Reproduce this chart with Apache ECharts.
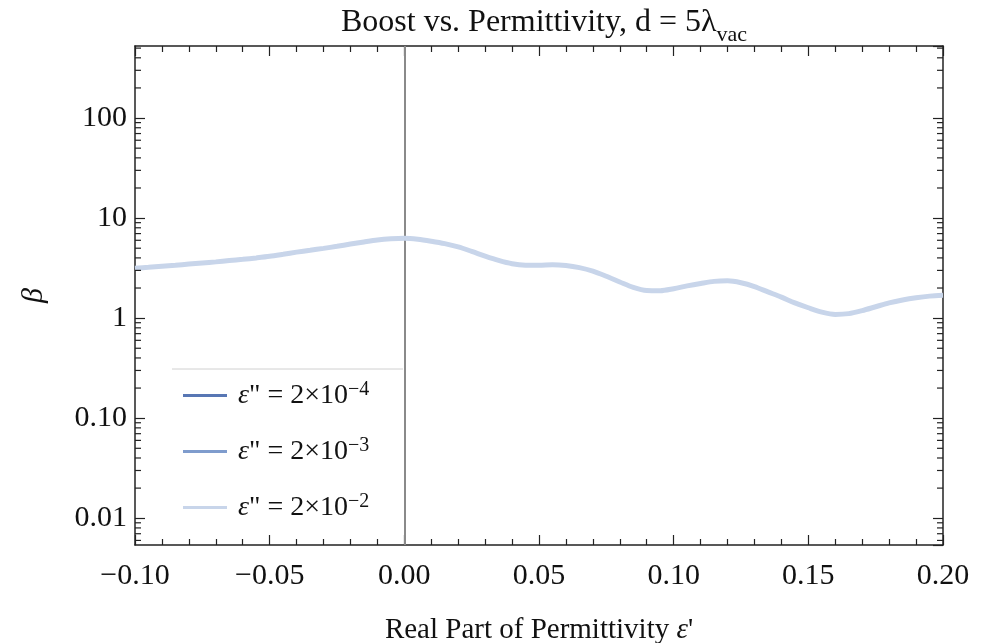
<!DOCTYPE html>
<html>
<head>
<meta charset="utf-8">
<script src="https://cdn.jsdelivr.net/npm/echarts@6/dist/echarts.min.js"></script>
<style>
  html, body { margin: 0; padding: 0; background: #fff; }
  #chart { width: 992px; height: 643px; }
</style>
</head>
<body>
<div id="chart"></div>
<script>
// Real part of permittivity (x) and boost factor beta (y)
var epsReal = [-0.100, -0.095, -0.090, -0.085, -0.080, -0.075, -0.070, -0.065, -0.060, -0.055,
               -0.050, -0.045, -0.040, -0.035, -0.030, -0.025, -0.020, -0.015, -0.010, -0.005,
                0.000,  0.005,  0.010,  0.015,  0.020,  0.025,  0.030,  0.035,  0.040,  0.045,
                0.050,  0.055,  0.060,  0.065,  0.070,  0.075,  0.080,  0.085,  0.090,  0.095,
                0.100,  0.105,  0.110,  0.115,  0.120,  0.125,  0.130,  0.135,  0.140,  0.145,
                0.150,  0.155,  0.160,  0.165,  0.170,  0.175,  0.180,  0.185,  0.190,  0.195,
                0.200];
var betaLoss4 = [3.15, 3.22, 3.30, 3.38, 3.47, 3.56, 3.65, 3.76, 3.87, 4.00,
                 4.15, 4.35, 4.57, 4.77, 4.98, 5.22, 5.50, 5.78, 6.05, 6.22,
                 6.30, 6.15, 5.87, 5.55, 5.15, 4.65, 4.17, 3.78, 3.50, 3.38,
                 3.37, 3.42, 3.36, 3.20, 2.95, 2.62, 2.30, 2.03, 1.89, 1.88,
                 1.97, 2.10, 2.22, 2.33, 2.36, 2.26, 2.07, 1.83, 1.62, 1.42,
                 1.27, 1.15, 1.09, 1.11, 1.19, 1.30, 1.42, 1.52, 1.60, 1.66,
                 1.69];
var betaLoss3 = betaLoss4.slice();
var betaLoss2 = betaLoss4.slice();

var seriesNames = ['loss4', 'loss3', 'loss2'];
var seriesExp = ['\u22124', '\u22123', '\u22122'];
var seriesColors = ['#5877b4', '#7f9ccd', '#c8d5ea'];

var xTicks = { min: -0.1, max: 0.2, interval: 0.05 };
var yRange = { min: 0.0054, max: 525 };
var yLabels = { 0.01: '0.01', 0.1: '0.10', 1: '1', 10: '10', 100: '100' };

// minor tick positions on the log axis (2..9 x 10^k)
var yMinorTicks = [];
for (var k = -3; k <= 2; k++) {
  for (var m = 2; m <= 9; m++) {
    var v = m * Math.pow(10, k);
    if (v > yRange.min && v < yRange.max) yMinorTicks.push([xTicks.min, v]);
  }
}

function pairs(xs, ys) { return xs.map(function (x, i) { return [x, ys[i]]; }); }

var serif = '"Liberation Serif", "Times New Roman", serif';
var frame = '#222';

function yLabelFmt(v) {
  var e = Math.round(Math.log10(v));
  var key = Math.pow(10, e);
  return Math.abs(Math.log10(v) - e) < 1e-6 && yLabels[key] ? yLabels[key] : '';
}

var chart = echarts.init(document.getElementById('chart'), null, { renderer: 'canvas' });

var commonX = {
  type: 'value', min: xTicks.min, max: xTicks.max, interval: xTicks.interval,
  axisLine: { show: true, onZero: false, lineStyle: { color: frame, width: 1.5 } },
  axisTick: { show: true, inside: true, length: 10, lineStyle: { color: frame, width: 1.2 } },
  minorTick: { show: true, splitNumber: 5, length: 6, lineStyle: { color: frame, width: 1.2 } },
  splitLine: { show: false }
};
var commonY = {
  type: 'log', logBase: 10, min: yRange.min, max: yRange.max,
  axisLine: { show: true, onZero: false, lineStyle: { color: frame, width: 1.5 } },
  axisTick: { show: true, inside: true, length: 10, lineStyle: { color: frame, width: 1.2 } },
  minorTick: { show: false },
  splitLine: { show: false }
};

var lineSeries = [betaLoss4, betaLoss3, betaLoss2].map(function (vals, i) {
  return {
    name: seriesNames[i],
    type: 'line',
    data: pairs(epsReal, vals),
    smooth: 0.3,
    symbol: 'none',
    showSymbol: false,
    xAxisIndex: 0, yAxisIndex: 0,
    lineStyle: { color: seriesColors[i], width: i === 2 ? 5 : 2.5 },
    itemStyle: { color: seriesColors[i] },
    z: 3 + i
  };
});
lineSeries[2].markLine = {
  silent: true, symbol: 'none', animation: false,
  label: { show: false },
  lineStyle: { color: '#8a8a8a', width: 2, type: 'solid' },
  data: [{ xAxis: 0 }]
};

chart.setOption({
  animation: false,
  backgroundColor: '#fff',
  title: {
    text: '{a|Boost vs. Permittivity, d = 5\u03bb}{b|vac}',
    left: 539, top: -4, textAlign: 'center',
    textStyle: {
      fontWeight: 'normal',
      rich: {
        a: { fontFamily: serif, fontWeight: 'normal', fontSize: 32, color: '#111', lineHeight: 38, verticalAlign: 'bottom' },
        b: { fontFamily: serif, fontWeight: 'normal', fontSize: 22, color: '#111', lineHeight: 38, verticalAlign: 'bottom', padding: [0, 0, -7, 0] }
      }
    }
  },
  grid: { left: 135, right: 49, top: 46, bottom: 98, containLabel: false, outerBoundsMode: 'none' },
  legend: {
    orient: 'vertical', left: 178, top: 375,
    data: seriesNames,
    icon: 'rect',
    itemWidth: 44, itemHeight: 3, itemGap: 26,
    formatter: function (name) {
      var i = seriesNames.indexOf(name);
      return '{i|\u03b5}{a|" = 2\u00d710}{s|' + seriesExp[i] + '}';
    },
    textStyle: {
      padding: [0, 0, 0, 6],
      rich: {
        i: { fontFamily: serif, fontStyle: 'italic', fontSize: 28, color: '#111', lineHeight: 31 },
        a: { fontFamily: serif, fontSize: 28, color: '#111', lineHeight: 31 },
        s: { fontFamily: serif, fontSize: 20, color: '#111', lineHeight: 31, verticalAlign: 'top', padding: [0, 0, 10, 0] }
      }
    }
  },
  graphic: [{
    type: 'line', silent: true,
    shape: { x1: 172, y1: 369, x2: 403, y2: 369 },
    style: { stroke: '#d0d0d0', lineWidth: 1 }
  }],
  xAxis: [
    Object.assign({}, commonX, {
      position: 'bottom',
      name: "{a|Real Part of Permittivity }{i|\u03b5}{a|'}",
      nameLocation: 'middle', nameGap: 71,
      nameTextStyle: {
        rich: {
          a: { fontFamily: serif, fontSize: 29, color: '#111' },
          i: { fontFamily: serif, fontStyle: 'italic', fontSize: 29, color: '#111' }
        }
      },
      axisLabel: {
        show: true, margin: 16, fontFamily: serif, fontSize: 30, color: '#111',
        formatter: function (v) { return (v < 0 ? '\u2212' : '') + Math.abs(v).toFixed(2); }
      }
    }),
    Object.assign({}, commonX, { position: 'top', axisLabel: { show: false } })
  ],
  yAxis: [
    Object.assign({}, commonY, {
      position: 'left',
      name: '\u03b2', nameLocation: 'middle', nameGap: 86, nameRotate: 90,
      nameTextStyle: { fontFamily: serif, fontStyle: 'italic', fontSize: 30, color: '#111' },
      axisLabel: {
        show: true, margin: 8, fontFamily: serif, fontSize: 30, color: '#111',
        showMinLabel: false, showMaxLabel: false,
        formatter: yLabelFmt
      }
    }),
    Object.assign({}, commonY, { position: 'right', axisLabel: { show: false } })
  ],
  series: lineSeries.concat([{
    name: 'yMinor',
    type: 'custom',
    xAxisIndex: 0, yAxisIndex: 0,
    silent: true,
    data: yMinorTicks,
    encode: { x: 0, y: 1 },
    renderItem: function (params, api) {
      var v = api.value(1);
      var l = api.coord([xTicks.min, v]);
      var r = api.coord([xTicks.max, v]);
      var st = { stroke: frame, lineWidth: 1.2 };
      return {
        type: 'group',
        children: [
          { type: 'line', shape: { x1: l[0], y1: l[1], x2: l[0] + 6, y2: l[1] }, style: st },
          { type: 'line', shape: { x1: r[0], y1: r[1], x2: r[0] - 6, y2: r[1] }, style: st }
        ]
      };
    },
    z: 10
  }])
});
</script>
</body>
</html>
